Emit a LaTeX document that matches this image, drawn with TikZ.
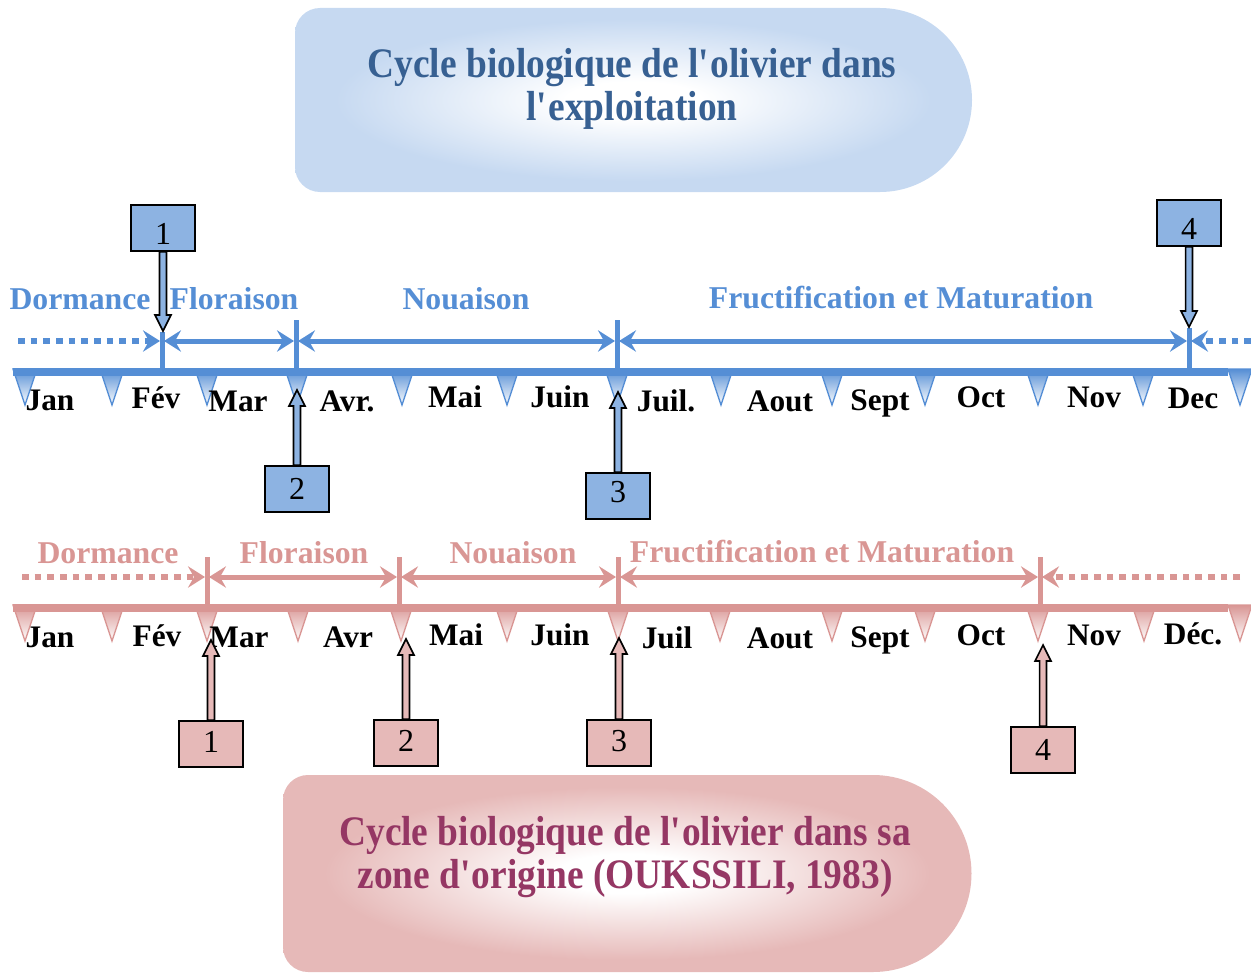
\documentclass[tikz,border=0pt]{standalone}
\usepackage{fontspec}
\setmainfont{Liberation Serif}
\newfontfamily\titlefont[FakeStretch=0.89]{Liberation Serif}
\usetikzlibrary{arrows.meta,calc}
\definecolor{lineblue}{HTML}{558ED5}
\definecolor{boxblue}{HTML}{8DB3E2}
\definecolor{ttblue}{HTML}{376092}
\definecolor{bgblue}{HTML}{C6D9F1}
\definecolor{linepink}{HTML}{D99694}
\definecolor{boxpink}{HTML}{E6B9B8}
\definecolor{ttpink}{HTML}{953764}
\definecolor{bgpink}{HTML}{E6B9B8}
\pgfdeclareradialshading{bluerad}{\pgfpoint{0bp}{0bp}}{color(0bp)=(white); color(5bp)=(white); color(22bp)=(bgblue); color(50bp)=(bgblue)}
\pgfdeclareradialshading{pinkrad}{\pgfpoint{0bp}{0bp}}{color(0bp)=(white); color(5bp)=(white); color(22bp)=(bgpink); color(50bp)=(bgpink)}
\newcommand\blockarrow[3]{%
  \coordinate (bahead) at ($(#3)!12pt!(#2)$);
  \draw[black, line width=1.2pt, fill=#1, line join=miter]
    ($(#2)!2.6pt!90:(#3)$) -- ($(bahead)!2.6pt!90:(#3)$) -- ($(bahead)!6pt!90:(#3)$)
    -- (#3) -- ($(bahead)!6pt!-90:(#3)$) -- ($(bahead)!2.6pt!-90:(#3)$)
    -- ($(#2)!2.6pt!-90:(#3)$) -- cycle;
}
\begin{document}
\begin{tikzpicture}[x=0.75pt,y=-0.75pt,
  lbl/.style={font=\fontsize{23.5}{28}\selectfont\bfseries, anchor=base, inner sep=0pt},
  month/.style={lbl},
  phaseB/.style={lbl, font=\fontsize{23.8}{28}\selectfont\bfseries, text=lineblue},
  phaseP/.style={lbl, font=\fontsize{23.8}{28}\selectfont\bfseries, text=linepink},
  callB/.style={draw=black, line width=1.1pt, fill=boxblue, minimum width=48pt, minimum height=34.5pt, inner sep=0pt, text height=16.2pt, text depth=0pt, font=\fontsize{24}{28}\selectfont},
  callP/.style={callB, fill=boxpink},
  tickB/.style={draw=lineblue, line width=1pt, top color=lineblue, bottom color=white},
  tickP/.style={draw=linepink, line width=1pt, top color=linepink, bottom color=white},
  axisB/.style={draw=lineblue, line width=6pt},
  axisP/.style={draw=linepink, line width=6pt},
  markB/.style={draw=lineblue, line width=3.75pt},
  markP/.style={draw=linepink, line width=3.75pt},
  tipA/.tip={Stealth[length=12.75pt,width=16pt,inset=4.5pt]},
  dblB/.style={draw=lineblue, line width=3.75pt, tipA-tipA},
  dblP/.style={draw=linepink, line width=3.75pt, tipA-tipA},
  dotB/.style={draw=lineblue, line width=5pt, dash pattern=on 5pt off 4.5pt, -tipA},
  dotP/.style={draw=linepink, line width=5pt, dash pattern=on 5pt off 4.5pt, -tipA},
  titleB/.style={font=\titlefont\fontsize{31.5}{32.5}\selectfont\bfseries, text=ttblue, align=center},
  titleP/.style={font=\titlefont\fontsize{31.5}{32.5}\selectfont\bfseries, text=ttpink, align=center}
]
\useasboundingbox (0,0) rectangle (1251,974);

% ---------- title boxes ----------
\shade[shading=bluerad] (880,8) -- (320,8) arc[start angle=-90,end angle=-180,radius=25]
  -- (295,167) arc[start angle=180,end angle=90,radius=25]
  -- (880,192) arc[start angle=90,end angle=-90,radius=92] -- cycle;
\node[titleB] (title1) at (632,89) {Cycle biologique de l\textquotesingle olivier dans\\l\textquotesingle exploitation};

\shade[shading=pinkrad] (873,775) -- (308,775) arc[start angle=-90,end angle=-180,radius=25]
  -- (283,947) arc[start angle=180,end angle=90,radius=25]
  -- (873,972) arc[start angle=90,end angle=-90,radius=98.5] -- cycle;
\node[titleP] (title2) at (625,857) {Cycle biologique de l\textquotesingle olivier dans sa\\zone d\textquotesingle origine (OUKSSILI, 1983)};

% ---------- top timeline ----------
\foreach \x in {25,112,207,297,402,507,617,721,832,925,1038,1143,1240}
  \path[tickB] (\x-12,369) -- (\x+12,369) -- (\x,405) -- cycle;
\draw[axisB] (13,372) -- (1228,372);

\coordinate (TM1t) at (162,332); \coordinate (TM1b) at (162,372);
\coordinate (TM2t) at (296,320); \coordinate (TM2b) at (296,372);
\coordinate (TM3t) at (617,320); \coordinate (TM3b) at (617,372);
\coordinate (TM4t) at (1189,328); \coordinate (TM4b) at (1189,372);
\foreach \i in {1,2,3,4} \draw[markB] (TM\i t) -- (TM\i b);

\coordinate (TdL) at (18,341);
\coordinate (T1a) at (160,341); \coordinate (T1b) at (164,341);
\coordinate (T2a) at (294,341); \coordinate (T2b) at (298,341);
\coordinate (T3a) at (615,341); \coordinate (T3b) at (619,341);
\coordinate (T4a) at (1187,341); \coordinate (T4b) at (1191,341);
\coordinate (TdR) at (1251,341);
\draw[dotB] (TdL) -- (T1a);
\draw[dblB] (T1b) -- (T2a);
\draw[dblB] (T2b) -- (T3a);
\draw[dblB] (T3b) -- (T4a);
\draw[dotB] (TdR) -- (T4b);

\node[phaseB] (tph1) at (80,309) {Dormance};
\node[phaseB] (tph2) at (234,309) {Floraison};
\node[phaseB] (tph3) at (466,309) {Nouaison};
\node[phaseB] (tph4) at (901,308) {Fructification et Maturation};

\foreach \t/\x/\y [count=\i] in {Jan/50/410, Fév/156/408, Mar/238/411, Avr./347/411, Mai/455/407, Juin/560/407, Juil./666/411, Aout/780/411, Sept/880/410, Oct/981/407, Nov/1094/407, Dec/1193/408}
  \node[month] (tmon\i) at (\x,\y) {\t};

% top callouts
\node[callB] (tb1) at (163,228) {\raisebox{-4pt}{1}};
\node[callB] (tb2) at (297,489) {2};
\node[callB] (tb3) at (618,496) {\raisebox{3pt}{3}};
\node[callB] (tb4) at (1189,223) {\raisebox{-4pt}{4}};
\coordinate (tt1) at (163,331);
\coordinate (tt2) at (297,390);
\coordinate (tt3) at (618,392);
\coordinate (tt4) at (1189,327);
\blockarrow{boxblue}{tb1.south}{tt1}
\blockarrow{boxblue}{tb2.north}{tt2}
\blockarrow{boxblue}{tb3.north}{tt3}
\blockarrow{boxblue}{tb4.south}{tt4}

% ---------- bottom timeline ----------
\foreach \x in {25,112,207,298,401,507,618,720,832,925,1038,1144,1240}
  \path[tickP] (\x-12,605) -- (\x+12,605) -- (\x,641) -- cycle;
\draw[axisP] (13,608) -- (1228,608);

\coordinate (BM1t) at (207,557); \coordinate (BM1b) at (207,608);
\coordinate (BM2t) at (399,557); \coordinate (BM2b) at (399,608);
\coordinate (BM3t) at (618,557); \coordinate (BM3b) at (618,608);
\coordinate (BM4t) at (1040,557); \coordinate (BM4b) at (1040,608);
\foreach \i in {1,2,3,4} \draw[markP] (BM\i t) -- (BM\i b);

\coordinate (BdL) at (22,577);
\coordinate (B1a) at (205,577); \coordinate (B1b) at (209,577);
\coordinate (B2a) at (397,577); \coordinate (B2b) at (401,577);
\coordinate (B3a) at (616,577); \coordinate (B3b) at (620,577);
\coordinate (B4a) at (1038,577); \coordinate (B4b) at (1042,577);
\coordinate (BdR) at (1240,577);
\draw[dotP] (BdL) -- (B1a);
\draw[dblP] (B1b) -- (B2a);
\draw[dblP] (B2b) -- (B3a);
\draw[dblP] (B3b) -- (B4a);
\draw[dotP] (BdR) -- (B4b);

\node[phaseP] (bph1) at (108,563) {Dormance};
\node[phaseP] (bph2) at (304,563) {Floraison};
\node[phaseP] (bph3) at (513,563) {Nouaison};
\node[phaseP] (bph4) at (822,562) {Fructification et Maturation};

\foreach \t/\x/\y [count=\i] in {Jan/50/647, Fév/157/646, Mar/239/647, Avr/348/647, Mai/456/645, Juin/560/645, Juil/667/648, Aout/780/648, Sept/880/647, Oct/981/645, Nov/1094/645, Déc./1193/644}
  \node[month] (bmon\i) at (\x,\y) {\t};

% bottom callouts
\node[callP] (bb1) at (211,744) {\raisebox{2pt}{1}};
\node[callP] (bb2) at (406,743) {\raisebox{2pt}{2}};
\node[callP] (bb3) at (619,743) {\raisebox{2pt}{3}};
\node[callP] (bb4) at (1043,750) {4};
\coordinate (bt1) at (211,640);
\coordinate (bt2) at (406,639);
\coordinate (bt3) at (619,638);
\coordinate (bt4) at (1043,645);
\blockarrow{boxpink}{bb1.north}{bt1}
\blockarrow{boxpink}{bb2.north}{bt2}
\blockarrow{boxpink}{bb3.north}{bt3}
\blockarrow{boxpink}{bb4.north}{bt4}
\end{tikzpicture}
\end{document}
